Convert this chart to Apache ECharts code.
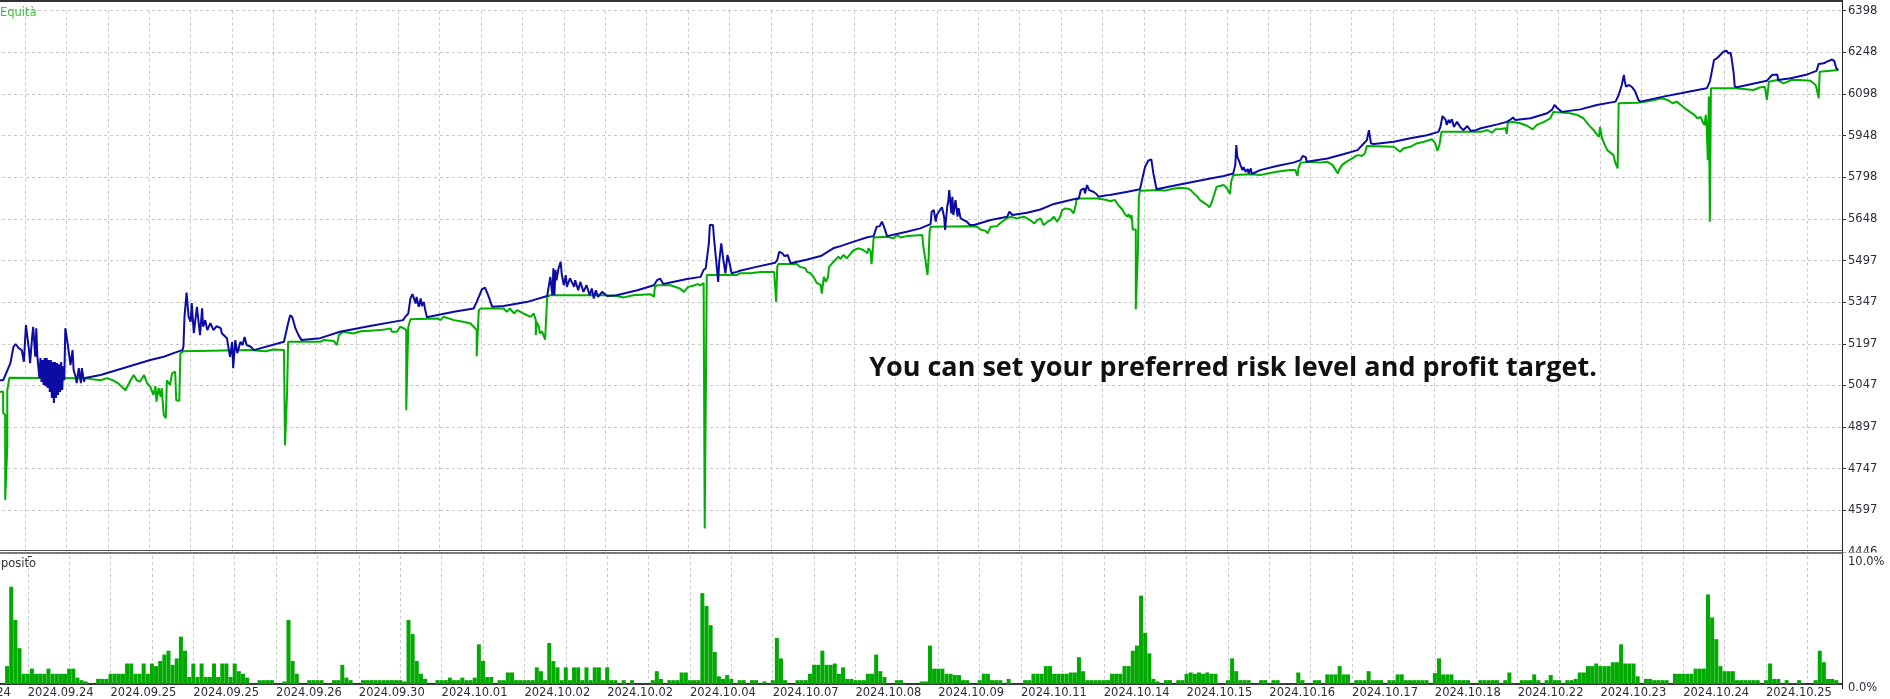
<!DOCTYPE html>
<html><head><meta charset="utf-8">
<script src="https://cdn.jsdelivr.net/npm/echarts@6/dist/echarts.min.js"></script>
<style>html,body{margin:0;padding:0;background:#fff;overflow:hidden;width:1890px;height:699px}
#c{position:absolute;left:-58px;top:0;width:1948px;height:699px}</style>
</head><body><div id="c"></div>
<script>
// x labels: one every 80 deals, first one at deal -80
const xLabels = ['2024.09.24','2024.09.24','2024.09.25','2024.09.25','2024.09.26','2024.09.30','2024.10.01','2024.10.02','2024.10.02','2024.10.04','2024.10.07','2024.10.08','2024.10.09','2024.10.11','2024.10.14','2024.10.15','2024.10.16','2024.10.17','2024.10.18','2024.10.22','2024.10.23','2024.10.24','2024.10.25'];
const yTickLabels = ['4446','4597','4747','4897','5047','5197','5347','5497','5648','5798','5948','6098','6248','6398'];
const yMinValue = 4446.9, yMaxValue = 6398.85;
const loadTickLabels = {0:'0.0%', 10:'10.0%'};

// [deal, value]
const balance = [
[-24,5066],[-21,5066],[-14,5128],[-11,5187],[-9,5197],[-6,5182],[-3,5175],[-1,5133],[1,5265],[4,5175],[5,5128],[7,5223],[8,5259],[10,5151],[11,5254],[12,5153],
[13,5150],[14,5074],[15,5146],[16,5060],[17,5139],[18,5049],[19,5146],[20,5045],[21,5146],[22,5038],[23,5139],[24,5024],[25,5139],[26,5002],[27,5132],[28,4984],[29,5132],[30,5002],[31,5128],[32,5013],[33,5124],[34,5024],[35,5132],[36,5031],[37,5117],[38,5066],
[39,5254],[41,5205],[42,5200],[44,5121],[46,5175],[47,5103],[49,5079],[50,5056],[52,5110],[54,5056],[55,5110],[57,5061],[58,5074],
[73,5085],[89,5103],[105,5121],[121,5139],[134,5151],[144,5165],[152,5175],
[153,5187],[154,5295],[156,5382],[157,5381],[158,5295],[160,5277],[161,5345],[163,5236],[166,5331],[169,5229],[171,5326],[172,5259],[174,5283],[176,5247],[179,5272],[182,5247],[185,5261],[189,5254],[190,5236],[195,5218],[196,5193],[198,5151],[200,5204],[201,5110],[203,5211],[205,5164],[208,5205],[210,5193],[212,5222],[214,5193],[218,5187],[221,5175],
[250,5205],[254,5272],[256,5301],[258,5294],[261,5254],[264,5229],[267,5211],[285,5218],[304,5241],[333,5262],
[365,5283],[367,5295],[370,5307],[372,5361],[374,5377],[377,5343],[378,5367],[380,5331],[382,5361],[383,5334],[385,5349],[386,5325],[388,5293],[390,5295],[414,5313],[433,5325],[436,5349],[441,5394],[444,5400],[447,5373],[451,5331],[462,5334],[485,5349],[504,5370],
[507,5439],[509,5373],[510,5470],[511,5373],[512,5464],[513,5427],[515,5470],[517,5493],[518,5451],[520,5409],[522,5445],[523,5403],[526,5434],[530,5403],[531,5427],[534,5391],[536,5421],[539,5385],[542,5409],[545,5373],[547,5397],[549,5361],[551,5391],[553,5367],[557,5385],[558,5379],[562,5370],[571,5373],[591,5391],[607,5409],[610,5427],[613,5433],[614,5427],[616,5413],[639,5431],[652,5439],[655,5464],[657,5470],[660,5560],[661,5626],[664,5626],[665,5578],[667,5500],[669,5421],[670,5493],[672,5560],[674,5500],[676,5452],[678,5518],[680,5488],[682,5452],[687,5457],[690,5461],
[706,5475],[724,5490],[726,5500],[728,5530],[731,5524],[733,5514],[736,5518],[737,5512],[739,5488],[755,5502],[768,5514],[780,5542],[787,5550],[800,5566],[813,5582],[819,5586],[822,5620],[825,5622],[827,5638],[829,5620],[832,5586],[851,5602],[864,5614],[874,5629],[875,5674],[877,5680],[879,5638],[880,5662],[883,5680],[885,5690],[887,5656],[888,5608],[890,5692],[891,5710],[892,5752],[894,5668],[895,5728],[896,5662],[898,5716],[900,5656],[901,5687],[903,5650],[906,5644],[909,5638],[912,5626],[916,5626],[932,5644],[948,5656],[950,5674],[953,5662],[967,5670],[980,5682],[993,5702],[1012,5719],[1017,5722],[1019,5752],[1022,5758],[1023,5740],[1025,5770],[1027,5752],[1031,5746],[1034,5738],[1036,5728],[1044,5733],[1047,5734],
[1064,5746],[1076,5755],[1078,5788],[1081,5836],[1084,5858],[1087,5863],[1089,5812],[1092,5755],[1112,5770],[1128,5782],[1144,5794],[1157,5803],[1166,5812],[1168,5842],[1169,5914],[1170,5872],[1172,5854],[1173,5842],[1175,5824],[1176,5835],[1178,5818],[1180,5828],[1181,5812],[1183,5830],[1184,5810],[1192,5824],[1208,5839],[1224,5851],[1231,5860],[1233,5875],[1236,5871],[1237,5854],[1257,5866],[1273,5882],[1286,5896],[1292,5920],[1295,5932],[1297,5968],[1298,5943],[1299,5920],[1302,5918],[1321,5926],[1337,5939],[1353,5950],[1364,5962],[1366,5980],[1368,6019],[1371,6005],[1372,5987],[1374,6005],[1375,5994],[1377,6007],[1379,5980],[1382,5998],[1385,5980],[1388,5968],[1392,5983],[1395,5966],[1400,5968],[1405,5975],
[1421,5989],[1430,5998],[1434,6007],[1436,6014],[1438,6005],[1453,6011],[1469,6029],[1474,6043],[1476,6059],[1479,6047],[1483,6034],[1501,6043],[1517,6059],[1535,6071],[1538,6095],[1541,6131],[1543,6167],[1544,6143],[1545,6125],[1548,6131],[1551,6123],[1554,6107],[1557,6077],[1559,6071],[1581,6089],[1598,6101],[1614,6113],[1623,6119],[1626,6143],[1630,6221],[1633,6228],[1636,6239],[1639,6251],[1642,6255],[1644,6245],[1646,6247],[1647,6227],[1649,6173],[1650,6125],[1652,6123],[1681,6146],[1686,6167],[1691,6169],[1692,6149],[1704,6155],[1720,6169],[1729,6182],[1731,6207],[1736,6209],[1739,6215],[1744,6223],[1746,6217],[1748,6191],[1750,6185]
];

const equity = [
[-24,5025],[-21,5025],[-21,4949],[-19,4941],[-19,4634],[-18,4634],[-17,4826],[-17,5030],[-15,5075],[58,5073],[73,5066],[79,5074],[85,5066],[90,5055],[97,5030],[102,5066],[105,5085],[108,5066],[111,5061],[115,5085],[118,5055],[121,5043],[124,5013],[126,5045],[127,4989],[129,5038],[131,5007],[132,5038],[134,4941],[136,4929],[137,5066],[140,5049],[142,5091],[145,5097],[146,4994],[149,4992],[150,5163],[153,5171],[217,5175],[232,5171],[240,5177],[250,5175],[251,5175],[251,4832],[252,4832],[253,5020],[254,5205],[285,5205],[288,5211],[298,5208],[301,5193],[303,5229],[307,5241],[317,5235],[324,5243],[333,5245],
[343,5247],[353,5253],[354,5241],[359,5241],[362,5259],[366,5253],[367,5247],[368,5247],[368,4958],[369,4958],[369,5115],[370,5259],[372,5286],[398,5289],[401,5283],[404,5295],[414,5283],[423,5277],[430,5271],[433,5259],[436,5247],[436,5153],[437,5153],[438,5319],[440,5325],[462,5325],[465,5313],[468,5325],[472,5307],[475,5319],[481,5307],[488,5295],[491,5307],[493,5283],[493,5229],[494,5276],[496,5259],[497,5235],[499,5243],[502,5213],[503,5289],[504,5367],[507,5373],[558,5373],[571,5370],[578,5365],[587,5373],[604,5376],[607,5367],[608,5403],[610,5409],[623,5409],[632,5397],[636,5385],[640,5403],[644,5406],[649,5413],[652,5409],[655,5417],[655,5391],[656,4532],[657,4532],[657,4971],[658,5446],[687,5446],[690,5452],
[700,5452],[710,5457],[723,5457],[724,5463],[725,5349],[726,5349],[726,5475],[727,5485],[745,5485],[748,5475],[753,5470],[755,5457],[758,5452],[761,5439],[764,5418],[768,5409],[769,5379],[771,5439],[773,5421],[775,5439],[776,5475],[779,5488],[782,5500],[785,5512],[787,5503],[790,5518],[793,5506],[797,5524],[800,5536],[805,5542],[809,5536],[813,5524],[814,5542],[816,5532],[817,5485],[818,5524],[819,5581],[832,5584],[838,5578],[842,5590],[845,5581],[851,5586],[866,5590],[867,5548],[868,5546],[869,5500],[871,5446],[872,5500],[873,5602],[874,5620],[912,5622],[919,5620],[922,5610],[927,5605],[929,5596],[932,5620],[938,5622],[941,5632],[945,5644],[951,5656],[957,5650],[964,5656],[970,5644],[974,5632],[977,5644],[980,5650],[983,5626],[987,5638],[990,5644],[993,5656],[996,5638],[999,5656],[1001,5680],[1004,5686],[1009,5682],[1012,5668],[1014,5698],[1015,5722],[1035,5722],[1044,5716],[1047,5712],
[1052,5716],[1055,5698],[1059,5682],[1062,5662],[1064,5656],[1065,5665],[1067,5650],[1068,5662],[1069,5610],[1072,5610],[1072,5322],[1073,5322],[1074,5524],[1075,5728],[1076,5750],[1096,5752],[1100,5750],[1109,5758],[1115,5760],[1122,5758],[1125,5752],[1128,5740],[1131,5730],[1134,5716],[1138,5706],[1141,5698],[1143,5690],[1145,5704],[1147,5728],[1150,5764],[1157,5770],[1160,5758],[1163,5738],[1164,5782],[1166,5806],[1183,5809],[1192,5806],[1199,5812],[1208,5818],[1221,5824],[1226,5824],[1228,5803],[1229,5830],[1231,5851],[1241,5854],[1250,5851],[1257,5854],[1262,5842],[1265,5824],[1267,5812],[1268,5824],[1271,5842],[1274,5851],[1278,5860],[1281,5866],[1284,5875],[1287,5878],[1290,5875],[1293,5884],[1295,5911],[1321,5908],[1327,5890],[1330,5902],[1337,5908],[1343,5920],[1350,5926],[1358,5935],[1361,5920],[1363,5894],[1365,5914],[1367,5962],[1405,5962],
[1411,5968],[1416,5959],[1419,5971],[1424,5972],[1429,5975],[1430,5954],[1431,5995],[1435,5998],[1443,5993],[1450,5983],[1455,5971],[1459,5987],[1466,5998],[1472,6011],[1475,6034],[1491,6029],[1498,6023],[1504,6011],[1509,5987],[1514,5968],[1516,5957],[1519,5944],[1520,5980],[1522,5938],[1524,5920],[1527,5896],[1530,5887],[1533,5878],[1535,5848],[1537,5830],[1538,6065],[1556,6067],[1565,6071],[1572,6077],[1580,6083],[1585,6077],[1590,6065],[1594,6071],[1598,6059],[1604,6041],[1611,6023],[1614,6011],[1617,6016],[1619,5998],[1621,5986],[1622,6023],[1623,5980],[1624,5860],[1625,6089],[1626,5638],[1627,6119],[1651,6119],[1668,6113],[1674,6122],[1679,6125],[1681,6077],[1683,6143],[1691,6149],[1697,6137],[1705,6149],[1713,6149],[1723,6146],[1728,6131],[1729,6119],[1731,6083],[1732,6179],[1750,6185]
];

// deposit load (%), one value every loadStep deals starting at loadStart
const loadStart = -20, loadStep = 4;
const loadPct = [
1.4,7.6,5.0,2.8,0.8,0.8,1.2,0.8,0.8,0.8,1.2,0.8,0.8,0.8,0.8,1.2,1.2,0.5,0.3,0.2,
0,0,0.4,0.4,0.4,0.8,0.8,0.8,0.8,1.6,1.6,0.8,0.8,1.6,0.8,1.6,1.4,1.8,2.3,2.6,
1.5,2.0,3.7,2.6,0.55,1.6,0.55,1.6,0.55,0.55,1.6,0.55,1.6,1.6,0.55,1.6,1.0,0.8,0.5,0,
0,0.3,0.3,0.3,0.3,0,0,0.2,5.0,1.8,0.8,0,0,0.3,0.3,0.3,0.3,0,0,0.3,
0.3,1.5,0.5,0.3,0,0,0.3,0.3,0.3,0.3,0.3,0.3,0.3,0.3,0.3,0.3,0.2,5.0,3.9,1.8,
0.8,0.4,0,0,0.3,0.3,0.3,0.5,0.3,0.3,0.5,0.3,0.3,0.5,3.1,1.8,0.55,0.55,0,0.3,
0.3,0.9,0.9,0.3,0.3,0.3,0.3,0.3,1.3,1.0,0.3,3.2,1.8,1.3,0.3,1.3,0.3,1.3,1.3,0.3,
1.3,0.3,1.3,1.3,0.3,1.3,0.3,0.3,0,0.3,0,0.3,0,0,0,0,0.3,1.0,0.4,0,
0.3,0.3,0.3,0.9,0.9,0.3,0.3,0.3,7.1,6.1,4.6,2.5,0.6,0.4,0.7,0.4,0,0.3,0.3,0,
0.3,0.3,0,0.2,0,0.3,3.6,2.0,0.3,0,0,0.3,0.3,0.3,0.8,1.5,1.5,2.6,1.5,1.5,
1.6,0.8,1.3,0.4,0.4,0.3,0.3,0.3,0.8,0.8,2.3,1.0,0.55,0,0,0.3,0.3,0,0,0,
0,0.2,0.2,3.0,1.2,1.2,1.2,0.8,0.8,0.7,0.7,0.3,0.3,0,0,0.3,0.8,0.8,0.3,0.3,
0.3,0,0.4,0,0,0,0.3,0.3,0.8,0.8,0.8,1.4,1.4,0.8,0.8,0.8,0.8,0.9,0.9,2.1,
1.0,0.3,0.3,0.3,0.3,0.3,0.3,0.8,0.8,0.8,1.4,1.4,2.6,3.0,6.9,4.0,2.4,0.4,0.2,0,
0.3,0.3,0,0.3,0.3,0.8,0.9,0.8,0.9,0.8,0.9,0.8,0.8,0,0,0.3,2.0,1.0,0.3,0.3,
0.3,0,0,0.3,0.3,0,0.3,0.3,0,0,0,0,0.9,0.3,0,0,0.3,0.3,0,0.75,
0.75,0.75,1.4,0.75,0.75,0,0.3,0.3,0.3,1.0,0.3,0.3,0.3,0,0.3,0.3,0.75,0.75,0.3,0.3,
0.3,0.3,0.3,0.3,0,0.85,2.0,0.75,0.75,0.75,0.3,0.3,0.3,0.3,0,0,0.3,0.3,0.3,0.3,
0.3,0,0.3,0.9,0,0,0.3,0.3,0.3,0.75,0.3,0,0.3,0.7,0.3,0.3,0,0.3,0.3,0.4,
0.9,0.9,1.4,1.4,1.6,1.4,1.4,1.4,1.7,1.7,3.1,1.6,1.6,1.6,0.6,0,0.4,0.4,0.3,0.3,
0.3,0.3,0,0.8,0.8,0.8,0.8,0.8,1.2,1.2,1.2,7.0,5.2,3.5,1.4,1.0,1.0,1.0,0.3,0.3,
0.3,0.3,0.3,0.3,0,0.3,1.6,0.4,0.4,0,0.3,0,0,0.3,0,0,0,0.3,2.6,1.7,
0.4,0.4,0.3
];

const X_MIN = -80, X_MAX = 1753.5, X_STEP = 40, X_LABEL_STEP = 80;
const loadData = loadPct.map((p, i) => [loadStart + i * loadStep, p]);

// the chart canvas starts 58px left of the window (the reference is cropped on the left)
const OX = 58;
const axisFont = { color: '#2b2b3b', fontSize: 11.5, fontFamily: 'DejaVu Sans' };
const gridDash = { color: '#c8c8c8', type: [3, 3], width: 1 };

const chart = echarts.init(document.getElementById('c'), null, { renderer: 'canvas' });
chart.setOption({
  animation: false,
  backgroundColor: '#ffffff',
  grid: [
    { left: 0, top: 10.7, width: 1900, height: 541.3 },
    { left: 0, top: 556, width: 1900, height: 131 }
  ],
  xAxis: [
    { type: 'value', gridIndex: 0, min: X_MIN, max: X_MAX, interval: X_STEP,
      axisLine: { show: false }, axisTick: { show: false }, axisLabel: { show: false },
      splitLine: { show: true, lineStyle: gridDash } },
    { type: 'value', gridIndex: 1, min: X_MIN, max: X_MAX, interval: X_STEP,
      axisLine: { show: true, onZero: false, lineStyle: { color: '#3a3a3a', width: 2 } },
      axisTick: { show: false },
      axisLabel: Object.assign({ align: 'left', margin: 3, showMaxLabel: true, showMinLabel: true,
        formatter: v => { const k = (v - X_MIN) / X_LABEL_STEP; const r = Math.round(k);
          return Math.abs(k - r) < 1e-6 ? (xLabels[r] || '') : ''; } }, axisFont),
      splitLine: { show: true, lineStyle: gridDash } }
  ],
  yAxis: [
    { type: 'value', gridIndex: 0, min: yMinValue, max: yMaxValue, show: false },
    { type: 'value', gridIndex: 0, position: 'right', min: 0, max: yTickLabels.length - 1, interval: 1,
      axisLine: { show: false },
      axisTick: { show: true, length: 4, lineStyle: { color: '#333' } },
      axisLabel: Object.assign({ margin: 6, formatter: v => yTickLabels[Math.round(v)] || '' }, axisFont),
      splitLine: { show: true, lineStyle: gridDash } },
    { type: 'value', gridIndex: 1, position: 'right', min: 0, max: 10, interval: 10, z: 60,
      axisLine: { show: false },
      axisTick: { show: true, length: 4, lineStyle: { color: '#333' } },
      axisLabel: Object.assign({ margin: 6,
        formatter: v => v === 10 ? '{t|' + loadTickLabels[10] + '}' : '{b|' + (loadTickLabels[v] || '') + '}',
        rich: { t: Object.assign({ padding: [13, 0, 0, 0] }, axisFont), b: Object.assign({ padding: [9, 0, 0, 0] }, axisFont) } }, axisFont),
      splitLine: { show: false } }
  ],
  series: [
    { name: 'Equità', type: 'line', xAxisIndex: 0, yAxisIndex: 0, data: equity, symbol: 'none',
      lineStyle: { color: '#00b000', width: 2 }, z: 3 },
    { name: 'Bilancio', type: 'line', xAxisIndex: 0, yAxisIndex: 0, data: balance, symbol: 'none',
      lineStyle: { color: '#0c0ca4', width: 2 }, z: 4 },
    { name: 'Carico del deposito', type: 'bar', xAxisIndex: 1, yAxisIndex: 2, data: loadData,
      barWidth: 4, itemStyle: { color: '#00aa00' }, z: 3 }
  ],
  graphic: [
    { type: 'line', shape: { x1: OX, y1: 1, x2: OX + 1843, y2: 1 }, style: { stroke: '#333', lineWidth: 2 }, z: 55 },
    { type: 'line', shape: { x1: OX + 1842.5, y1: 0, x2: OX + 1842.5, y2: 689 }, style: { stroke: '#222', lineWidth: 1 }, z: 55 },
    { type: 'rect', shape: { x: OX + 1843, y: 552.5, width: 47, height: 4 }, style: { fill: '#fff' }, z: 50 },
    { type: 'line', shape: { x1: OX, y1: 550.5, x2: OX + 1843, y2: 550.5 }, style: { stroke: '#555', lineWidth: 1 }, z: 55 },
    { type: 'line', shape: { x1: OX, y1: 553, x2: OX + 1843, y2: 553 }, style: { stroke: '#555', lineWidth: 1.5 }, z: 55 },
    { type: 'text', x: OX, y: 13, z: 56, style: { text: 'Equità', fill: '#3cc43c', font: '11.5px "DejaVu Sans"', verticalAlign: 'middle', textVerticalAlign: 'middle' } },
    { type: 'text', x: OX - 15, y: 564, z: 56, style: { text: 'Deposito', fill: '#333', font: '11.5px "DejaVu Sans"', verticalAlign: 'middle', textVerticalAlign: 'middle' } },
    { type: 'text', x: OX + 1233, y: 368, z: 56, style: { text: 'You can set your preferred risk level and profit target.', fill: '#111', font: 'bold 27px "Open Sans"', align: 'center', textAlign: 'center', verticalAlign: 'middle', textVerticalAlign: 'middle' } }
  ]
});
</script>
</body></html>
